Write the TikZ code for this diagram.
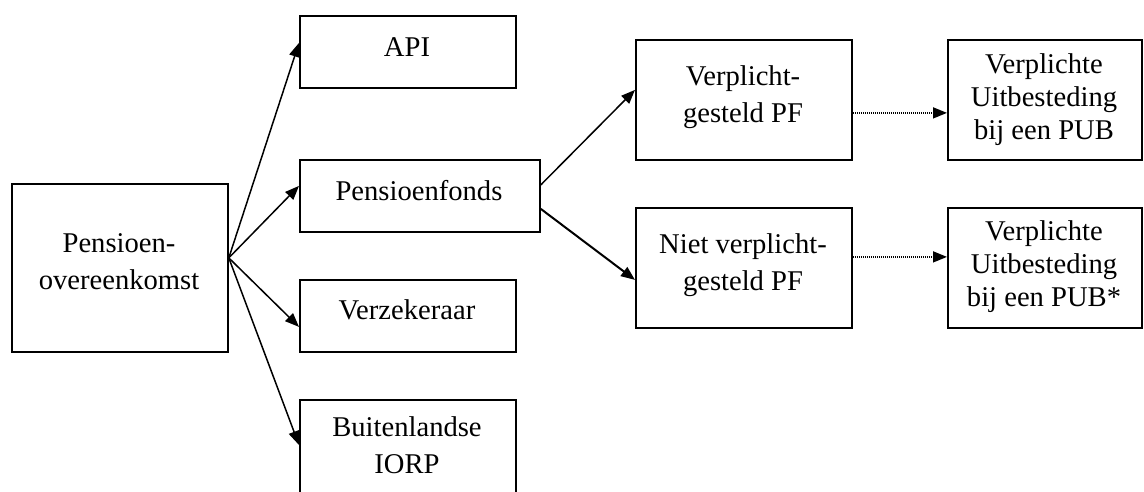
\documentclass[tikz,border=0pt]{standalone}
\usepackage{fontspec}
\setmainfont{Liberation Serif}
\usetikzlibrary{arrows.meta,calc}

\begin{document}
\begin{tikzpicture}[x=1pt,y=-1pt,
  box/.style={draw,line width=1.8pt,inner sep=0pt,anchor=north west},
  txt/.style={align=center,inner sep=0pt,font=\fontsize{28.6}{37}\selectfont},
  txtsmall/.style={align=center,inner sep=0pt,font=\fontsize{28.6}{33}\selectfont},
  arr/.style={line width=1.5pt,-{Triangle[length=14pt,width=11pt]}},
  dotarr/.style={line width=1.5pt,dash pattern=on 1pt off 1pt,-{Triangle[length=14pt,width=11pt]}}
]
\useasboundingbox (0,0) rectangle (1144,492);

% boxes
\node[box,minimum width=216pt,minimum height=168pt] (po) at (11,183) {};
\node[box,minimum width=216pt,minimum height=72pt] (api) at (299,15) {};
\node[box,minimum width=240pt,minimum height=72pt] (pf) at (299,159) {};
\node[box,minimum width=216pt,minimum height=72pt] (vz) at (299,279) {};
\node[box,minimum width=216pt,minimum height=110pt] (iorp) at (299,399) {};
\node[box,minimum width=216pt,minimum height=120pt] (vpf) at (635,39) {};
\node[box,minimum width=216pt,minimum height=120pt] (npf) at (635,207) {};
\node[box,minimum width=194pt,minimum height=120pt] (ub1) at (947,39) {};
\node[box,minimum width=194pt,minimum height=120pt] (ub2) at (947,207) {};

% labels
\node[txt] (po-t) at (119,262) {Pensioen-\\overeenkomst};
\node[txt] (api-t) at (407,47) {API};
\node[txt] (pf-t) at (419,191) {Pensioenfonds};
\node[txt] (vz-t) at (407,310) {Verzekeraar};
\node[txt] (iorp-t) at (407,445) {Buitenlandse\\IORP};
\node[txt] (vpf-t) at (743,97) {Verplicht-\\gesteld PF};
\node[txt] (npf-t) at (743,265) {Niet verplicht-\\gesteld PF};
\node[txtsmall] (ub1-t) at (1044,100) {Verplichte\\Uitbesteding\\bij een PUB};
\node[txtsmall] (ub2-t) at (1044,267) {Verplichte\\Uitbesteding\\bij een PUB*};

% connectors
\coordinate (hub) at ($(po.east)+(0,-10)$);
\draw[arr] (hub) -- ($(api.west)+(0,-9)$);
\draw[arr] (hub) -- ($(pf.west)+(0,-10)$);
\draw[arr] (hub) -- ($(vz.west)+(0,11)$);
\draw[arr] (hub) -- ($(iorp.north west)+(0,46)$);
\draw[arr] ($(pf.east)+(0,-11)$) -- ($(vpf.west)+(0,-10)$);
\draw[arr,line width=2pt] ($(pf.east)+(0,13)$) -- ($(npf.west)+(0,12)$);
\draw[dotarr] ($(vpf.east)+(0,13)$) -- ($(ub1.west)+(0,13)$);
\draw[dotarr] ($(npf.east)+(0,-11)$) -- ($(ub2.west)+(0,-11)$);
\end{tikzpicture}
\end{document}
